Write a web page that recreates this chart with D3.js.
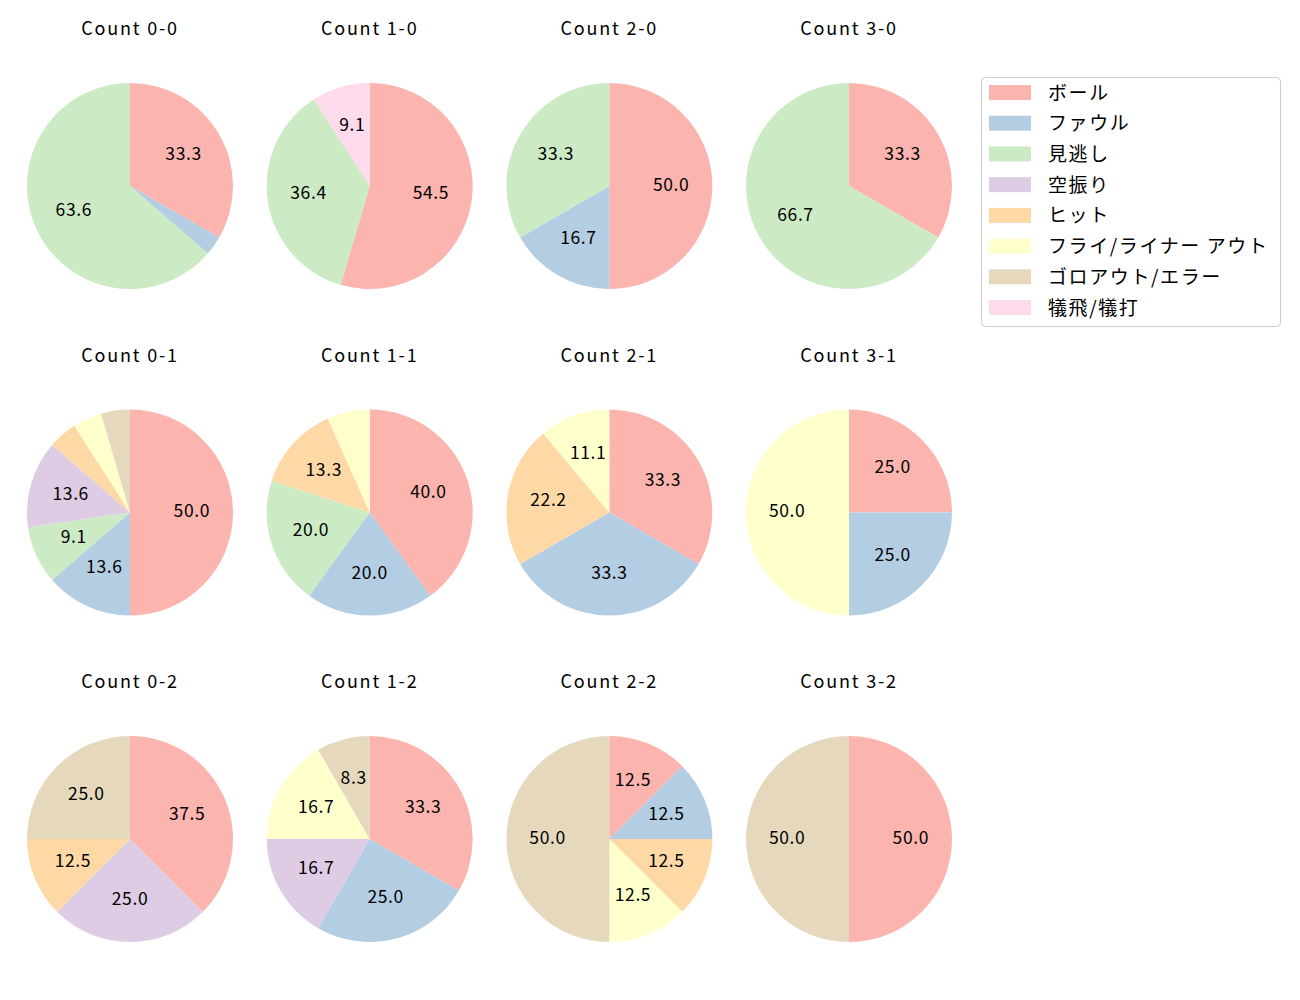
<!DOCTYPE html>
<html><head><meta charset="utf-8">
<script src="https://cdn.jsdelivr.net/npm/d3@7"></script>
<style>body{margin:0;background:#fff}svg{display:block}text{font-family:"Noto Sans CJK JP","Noto Sans",sans-serif;fill:#000}</style>
</head><body>
<script>
const categories = ["ボール","ファウル","見逃し","空振り","ヒット","フライ/ライナー アウト","ゴロアウト/エラー","犠飛/犠打"];
const colors = ["#fbb4ae","#b3cde3","#ccebc5","#decbe4","#fed9a6","#ffffcc","#e5d8bd","#fddaec"];
const titles = ["Count 0-0","Count 1-0","Count 2-0","Count 3-0","Count 0-1","Count 1-1","Count 2-1","Count 3-1","Count 0-2","Count 1-2","Count 2-2","Count 3-2"];
const count00 = [11,1,21,0,0,0,0,0];
const count10 = [6,0,4,0,0,0,0,1];
const count20 = [3,1,2,0,0,0,0,0];
const count30 = [1,0,2,0,0,0,0,0];
const count01 = [11,3,2,3,1,1,1,0];
const count11 = [6,3,3,0,2,1,0,0];
const count21 = [3,3,0,0,2,1,0,0];
const count31 = [1,1,0,0,0,2,0,0];
const count02 = [3,0,0,2,1,0,2,0];
const count12 = [4,3,0,2,0,2,1,0];
const count22 = [1,1,0,0,1,1,4,0];
const count32 = [1,0,0,0,0,0,1,0];
const series = [count00,count10,count20,count30,count01,count11,count21,count31,count02,count12,count22,count32];

const W=1300,H=1000;
const svg=d3.select("body").append("svg").attr("width",W).attr("height",H);
const xPos=d3.scalePoint().domain([0,1,2,3]).range([130,849]);
const yPos=d3.scalePoint().domain([0,1,2]).range([186,839]);
const R=103;
const pie=d3.pie().sort(null).value(d=>d.v).startAngle(0).endAngle(2*Math.PI);
const arc=d3.arc().innerRadius(0).outerRadius(R);
const labelArc=d3.arc().innerRadius(R*0.6).outerRadius(R*0.6);

series.forEach((vals,i)=>{
  const col=i%4,row=Math.floor(i/4);
  const g=svg.append("g").attr("transform",`translate(${xPos(col)},${yPos(row)})`);
  const total=d3.sum(vals);
  const data=vals.map((v,k)=>({v,k})).filter(d=>d.v>0);
  const arcs=pie(data);
  g.selectAll("path").data(arcs).join("path").attr("d",arc).attr("fill",d=>colors[d.data.k]);
  g.selectAll("text.lab").data(arcs.filter(d=>d.data.v/total*100>=7)).join("text").attr("class","lab")
    .attr("transform",d=>{const c=labelArc.centroid(d);return `translate(${c[0]},${c[1]-3})`;})
    .attr("text-anchor","middle").attr("dominant-baseline","central")
    .style("font-size","17.5px").style("letter-spacing","0.6px")
    .text(d=>(d.data.v/total*100).toFixed(1));
  g.append("text").attr("x",0).attr("y",-R-56).attr("text-anchor","middle").attr("dominant-baseline","central")
    .style("font-size","18px").style("letter-spacing","1.8px").text(titles[i]);
});

// legend
const lg=svg.append("g");
lg.append("rect").attr("x",981.5).attr("y",77.5).attr("width",299).attr("height",249).attr("rx",4)
  .attr("fill","#fff").attr("stroke","#cccccc");
const ly=d3.scalePoint().domain(d3.range(categories.length)).range([92,307]);
categories.forEach((c,k)=>{
  lg.append("rect").attr("x",989).attr("y",ly(k)-7).attr("width",42).attr("height",15).attr("fill",colors[k]);
  lg.append("text").attr("x",1048).attr("y",ly(k)-1).attr("dominant-baseline","central").style("font-size","19px").style("letter-spacing","1.6px").text(c);
});
</script>
</body></html>
